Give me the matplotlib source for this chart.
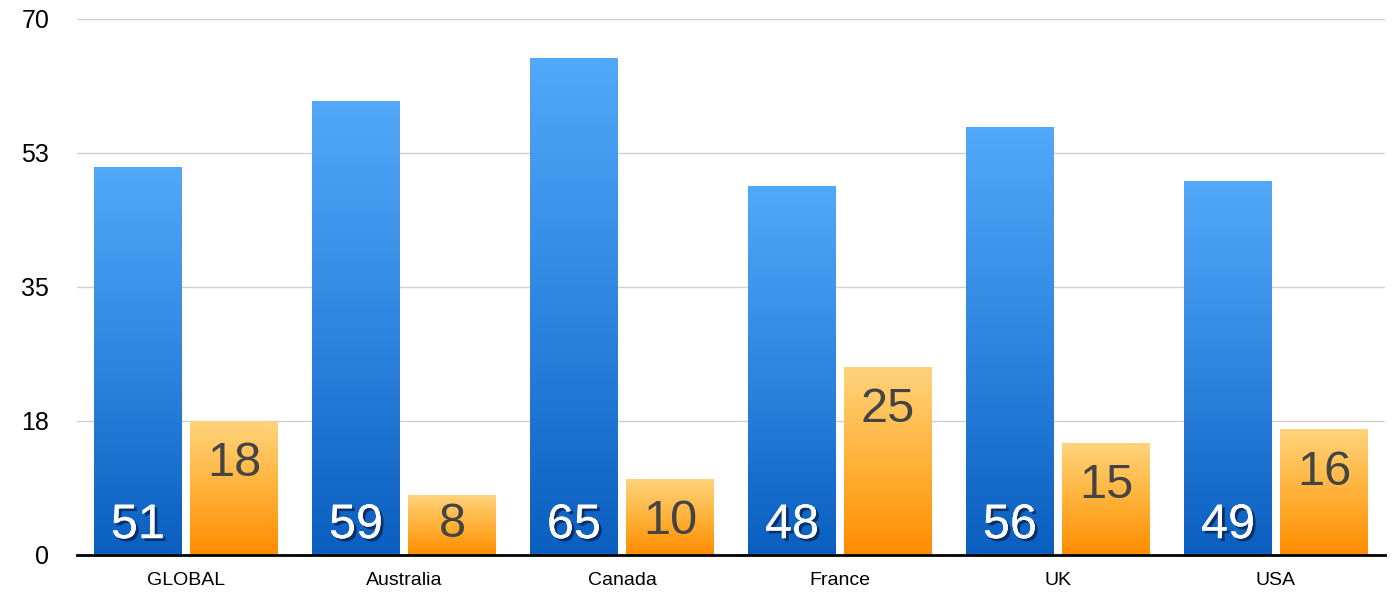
import numpy as np
import matplotlib
matplotlib.use("Agg")
import matplotlib.pyplot as plt
import matplotlib.patheffects as pe
from matplotlib.colors import LinearSegmentedColormap

categories = ["GLOBAL", "Australia", "Canada", "France", "UK", "USA"]
blue_values = [50.7, 59.3, 64.9, 48.2, 55.9, 48.8]
orange_values = [17.5, 7.8, 9.9, 24.6, 14.6, 16.4]
blue_labels = ["51", "59", "65", "48", "56", "49"]
orange_labels = ["18", "8", "10", "25", "15", "16"]
yticks = [0, 17.5, 35, 52.5, 70]
ytick_labels = ["0", "18", "35", "53", "70"]

plt.rcParams['font.family'] = ['Liberation Sans', 'DejaVu Sans']

fig = plt.figure(figsize=(13.97, 5.93), dpi=100)
ax = fig.add_axes([0.0551, 0.0641, 0.9363, 0.904])

blue_cmap = LinearSegmentedColormap.from_list("b", ["#0A5EBF", "#2F86E0", "#52A8F9"])
orange_cmap = LinearSegmentedColormap.from_list("o", ["#FF8C00", "#FFB23A", "#FFD47C"])
grad = np.linspace(0, 1, 256).reshape(-1, 1)

x = np.arange(len(categories))
w = 0.4
off = 0.22

ax.set_xlim(-0.5, len(categories) - 0.5)
ax.set_ylim(0, 70)

for vals, dx, cmap in [(blue_values, -off, blue_cmap), (orange_values, off, orange_cmap)]:
    bars = ax.bar(x + dx, vals, width=w, color='none', edgecolor='none', zorder=2)
    for b in bars:
        x0, y0 = b.get_x(), b.get_y()
        im = ax.imshow(grad, extent=[x0, x0 + b.get_width(), y0, y0 + b.get_height()],
                       origin='lower', aspect='auto', cmap=cmap, zorder=2, interpolation='bilinear')
        im.set_clip_path(b)

ax.set_xlim(-0.5, len(categories) - 0.5)
ax.set_ylim(0, 70)

for i in range(len(categories)):
    ax.text(x[i] - off, 2.2, blue_labels[i], ha='center', va='baseline', fontsize=35,
            color='white', zorder=4,
            path_effects=[pe.withSimplePatchShadow(offset=(2, -2), shadow_rgbFace='#0a1a40', alpha=0.7),
                          pe.Normal()])
    yb = max(orange_values[i] - 7.2, 2.3)
    ax.text(x[i] + off, yb, orange_labels[i], ha='center', va='baseline', fontsize=35,
            color='#444444', zorder=4)

ax.set_yticks(yticks)
ax.set_yticklabels(ytick_labels, fontsize=18)
ax.set_xticks(x)
ax.set_xticklabels(categories, fontsize=14)
ax.tick_params(axis='y', length=0, pad=20)
ax.tick_params(axis='x', length=0, pad=12)
ax.yaxis.grid(True, color='#d0d0d0', linewidth=1, zorder=0)
ax.set_axisbelow(True)
for s in ['top', 'right', 'left']:
    ax.spines[s].set_visible(False)
ax.spines['bottom'].set_color('black')
ax.spines['bottom'].set_linewidth(2)
ax.spines['bottom'].set_zorder(5)

fig.savefig("out.png", dpi=100)
